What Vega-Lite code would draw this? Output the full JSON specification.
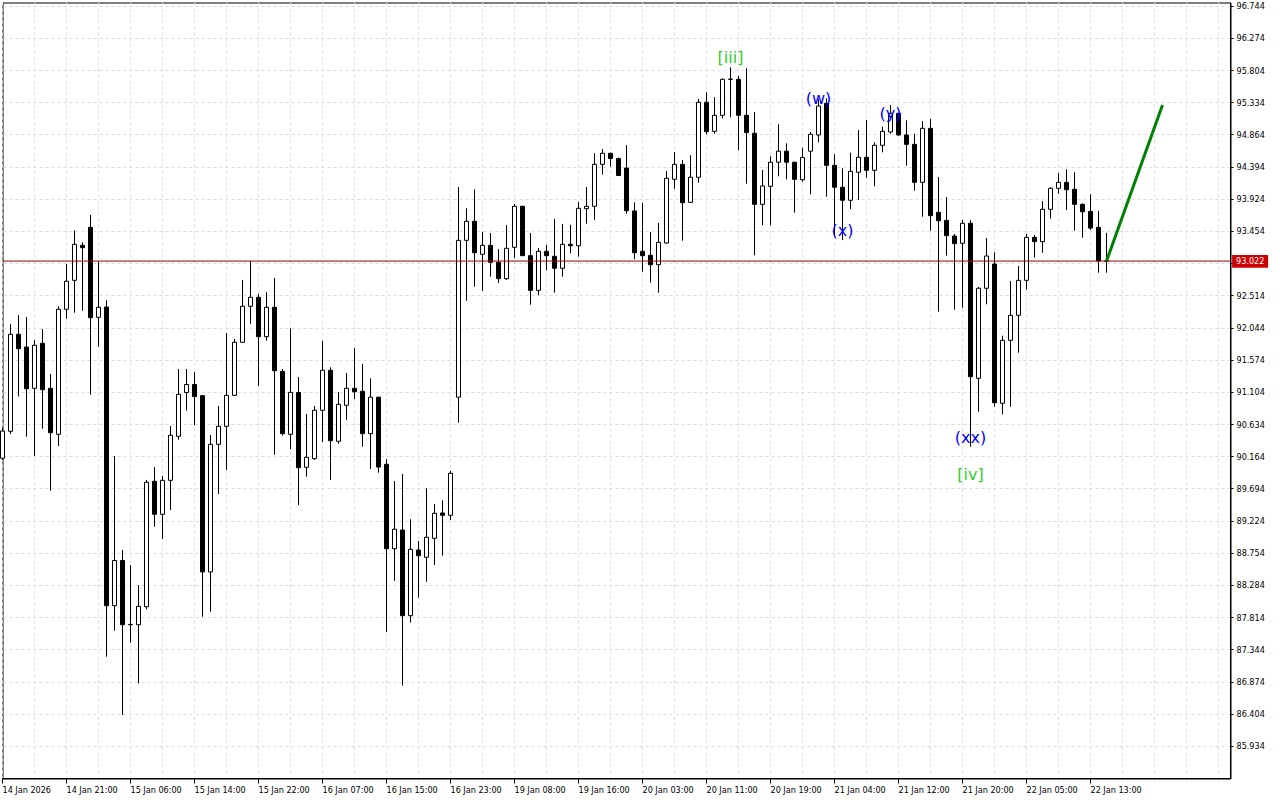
{
  "$schema": "https://vega.github.io/schema/vega-lite/v6.json",
  "width": 1228,
  "height": 776,
  "autosize": {"type": "none"},
  "padding": {"left": 2.5, "top": 2.5, "right": 49.5, "bottom": 21.5},
  "background": "white",
  "config": {"view": {"stroke": "black", "strokeWidth": 1}, "axis": {"translate": 0}, "scale": {"continuousPadding": 0}},
  "resolve": {"axis": {"x": "independent", "y": "independent"}},
  "datasets": {
    "candles": [
      {"k":0,"open":90.142,"high":90.584,"low":90.117,"close":90.540},
      {"k":1,"open":90.536,"high":92.103,"low":90.496,"close":91.953},
      {"k":2,"open":91.953,"high":92.234,"low":91.043,"close":91.742},
      {"k":3,"open":91.767,"high":92.205,"low":90.457,"close":91.158},
      {"k":4,"open":91.164,"high":91.869,"low":90.175,"close":91.792},
      {"k":5,"open":91.821,"high":92.030,"low":90.574,"close":91.143},
      {"k":6,"open":91.164,"high":91.373,"low":89.668,"close":90.515},
      {"k":7,"open":90.492,"high":92.362,"low":90.321,"close":92.318},
      {"k":8,"open":92.318,"high":92.979,"low":92.180,"close":92.727},
      {"k":9,"open":92.741,"high":93.471,"low":92.268,"close":93.267},
      {"k":10,"open":93.252,"high":93.296,"low":92.297,"close":93.217},
      {"k":11,"open":93.515,"high":93.695,"low":91.070,"close":92.195},
      {"k":12,"open":92.201,"high":93.013,"low":91.771,"close":92.347},
      {"k":13,"open":92.351,"high":92.450,"low":87.244,"close":87.989},
      {"k":14,"open":87.989,"high":90.175,"low":87.624,"close":88.649},
      {"k":15,"open":88.649,"high":88.802,"low":86.392,"close":87.711},
      {"k":16,"open":87.711,"high":88.583,"low":87.448,"close":87.715},
      {"k":17,"open":87.711,"high":88.291,"low":86.855,"close":87.980},
      {"k":18,"open":87.974,"high":89.825,"low":87.936,"close":89.791},
      {"k":19,"open":89.806,"high":90.014,"low":89.143,"close":89.324},
      {"k":20,"open":89.324,"high":89.883,"low":88.963,"close":89.820},
      {"k":21,"open":89.820,"high":90.613,"low":89.386,"close":90.478},
      {"k":22,"open":90.463,"high":91.446,"low":90.413,"close":91.076},
      {"k":23,"open":91.103,"high":91.446,"low":90.837,"close":91.219},
      {"k":24,"open":91.219,"high":91.402,"low":90.628,"close":91.043},
      {"k":25,"open":91.056,"high":91.066,"low":87.828,"close":88.482},
      {"k":26,"open":88.482,"high":90.482,"low":87.901,"close":90.346},
      {"k":27,"open":90.346,"high":90.905,"low":89.620,"close":90.609},
      {"k":28,"open":90.609,"high":91.972,"low":89.971,"close":91.061},
      {"k":29,"open":91.061,"high":91.884,"low":91.051,"close":91.836},
      {"k":30,"open":91.836,"high":92.746,"low":91.826,"close":92.362},
      {"k":31,"open":92.362,"high":93.023,"low":92.103,"close":92.493},
      {"k":32,"open":92.493,"high":92.544,"low":91.199,"close":91.918},
      {"k":33,"open":91.918,"high":92.569,"low":91.859,"close":92.347},
      {"k":34,"open":92.347,"high":92.775,"low":90.194,"close":91.421},
      {"k":35,"open":91.412,"high":91.446,"low":90.472,"close":90.501},
      {"k":36,"open":90.492,"high":92.040,"low":90.277,"close":91.105},
      {"k":37,"open":91.103,"high":91.329,"low":89.459,"close":90.004},
      {"k":38,"open":90.010,"high":90.789,"low":89.873,"close":90.156},
      {"k":39,"open":90.136,"high":90.905,"low":90.117,"close":90.843},
      {"k":40,"open":90.843,"high":91.855,"low":90.380,"close":91.427},
      {"k":41,"open":91.427,"high":91.471,"low":89.825,"close":90.399},
      {"k":42,"open":90.390,"high":91.110,"low":90.355,"close":90.930},
      {"k":43,"open":90.916,"high":91.387,"low":90.701,"close":91.164},
      {"k":44,"open":91.164,"high":91.752,"low":91.008,"close":91.114},
      {"k":45,"open":91.120,"high":91.519,"low":90.311,"close":90.501},
      {"k":46,"open":90.501,"high":91.310,"low":89.985,"close":91.034},
      {"k":47,"open":91.034,"high":91.040,"low":89.931,"close":90.014},
      {"k":48,"open":90.054,"high":90.127,"low":87.605,"close":88.821},
      {"k":49,"open":88.821,"high":89.810,"low":88.353,"close":89.105},
      {"k":50,"open":89.094,"high":89.912,"low":86.822,"close":87.843},
      {"k":51,"open":87.843,"high":89.251,"low":87.741,"close":88.812},
      {"k":52,"open":88.802,"high":88.934,"low":88.107,"close":88.719},
      {"k":53,"open":88.696,"high":89.703,"low":88.338,"close":88.988},
      {"k":54,"open":88.973,"high":89.474,"low":88.583,"close":89.338},
      {"k":55,"open":89.343,"high":89.528,"low":88.719,"close":89.309},
      {"k":56,"open":89.309,"high":89.956,"low":89.240,"close":89.922},
      {"k":57,"open":91.034,"high":94.104,"low":90.662,"close":93.325},
      {"k":58,"open":93.325,"high":93.793,"low":92.443,"close":93.603},
      {"k":59,"open":93.603,"high":94.070,"low":92.648,"close":93.144},
      {"k":60,"open":93.121,"high":93.447,"low":92.585,"close":93.252},
      {"k":61,"open":93.252,"high":93.432,"low":92.794,"close":93.004},
      {"k":62,"open":93.004,"high":93.198,"low":92.702,"close":92.765},
      {"k":63,"open":92.765,"high":93.549,"low":92.746,"close":93.209},
      {"k":64,"open":93.223,"high":93.856,"low":93.063,"close":93.822},
      {"k":65,"open":93.822,"high":93.830,"low":93.095,"close":93.101},
      {"k":66,"open":93.101,"high":93.432,"low":92.385,"close":92.595},
      {"k":67,"open":92.595,"high":93.213,"low":92.523,"close":93.165},
      {"k":68,"open":93.165,"high":93.257,"low":92.887,"close":93.101},
      {"k":69,"open":93.092,"high":93.637,"low":92.560,"close":92.917},
      {"k":70,"open":92.917,"high":93.564,"low":92.794,"close":93.267},
      {"k":71,"open":93.267,"high":93.553,"low":93.136,"close":93.246},
      {"k":72,"open":93.246,"high":93.885,"low":93.087,"close":93.793},
      {"k":73,"open":93.787,"high":94.104,"low":93.568,"close":93.822},
      {"k":74,"open":93.822,"high":94.600,"low":93.622,"close":94.435},
      {"k":75,"open":94.435,"high":94.659,"low":94.286,"close":94.596},
      {"k":76,"open":94.596,"high":94.605,"low":94.402,"close":94.519},
      {"k":77,"open":94.519,"high":94.533,"low":94.270,"close":94.272},
      {"k":78,"open":94.381,"high":94.717,"low":93.714,"close":93.758},
      {"k":79,"open":93.754,"high":93.880,"low":93.048,"close":93.144},
      {"k":80,"open":93.165,"high":93.870,"low":92.867,"close":93.101},
      {"k":81,"open":93.106,"high":93.447,"low":92.706,"close":92.969},
      {"k":82,"open":92.969,"high":93.578,"low":92.560,"close":93.296},
      {"k":83,"open":93.286,"high":94.338,"low":93.276,"close":94.231},
      {"k":84,"open":94.216,"high":94.615,"low":94.079,"close":94.435},
      {"k":85,"open":94.435,"high":94.498,"low":93.320,"close":93.874},
      {"k":86,"open":93.880,"high":94.567,"low":93.870,"close":94.246},
      {"k":87,"open":94.246,"high":95.389,"low":94.167,"close":95.341},
      {"k":88,"open":95.341,"high":95.487,"low":94.874,"close":94.912},
      {"k":89,"open":94.917,"high":95.414,"low":94.882,"close":95.151},
      {"k":90,"open":95.151,"high":95.691,"low":95.107,"close":95.676},
      {"k":91,"open":95.676,"high":95.852,"low":95.122,"close":95.680},
      {"k":92,"open":95.676,"high":95.725,"low":94.640,"close":95.151},
      {"k":93,"open":95.151,"high":95.837,"low":94.152,"close":94.898},
      {"k":94,"open":94.889,"high":95.199,"low":93.106,"close":93.851},
      {"k":95,"open":93.851,"high":94.352,"low":93.545,"close":94.119},
      {"k":96,"open":94.114,"high":94.552,"low":93.545,"close":94.466},
      {"k":97,"open":94.466,"high":95.020,"low":94.260,"close":94.627},
      {"k":98,"open":94.627,"high":94.742,"low":94.216,"close":94.466},
      {"k":99,"open":94.466,"high":94.470,"low":93.729,"close":94.216},
      {"k":100,"open":94.210,"high":94.678,"low":94.181,"close":94.533},
      {"k":101,"open":94.627,"high":94.907,"low":93.997,"close":94.874},
      {"k":102,"open":94.864,"high":95.389,"low":94.757,"close":95.287},
      {"k":103,"open":95.326,"high":95.399,"low":93.962,"close":94.420},
      {"k":104,"open":94.420,"high":94.583,"low":93.378,"close":94.100},
      {"k":105,"open":94.100,"high":94.377,"low":93.329,"close":93.910},
      {"k":106,"open":93.910,"high":94.605,"low":93.782,"close":94.333},
      {"k":107,"open":94.319,"high":94.936,"low":93.914,"close":94.538},
      {"k":108,"open":94.538,"high":95.082,"low":94.240,"close":94.348},
      {"k":109,"open":94.348,"high":94.757,"low":94.114,"close":94.713},
      {"k":110,"open":94.713,"high":94.985,"low":94.610,"close":94.917},
      {"k":111,"open":94.907,"high":95.301,"low":94.878,"close":95.180},
      {"k":112,"open":95.180,"high":95.189,"low":94.850,"close":94.864},
      {"k":113,"open":94.864,"high":95.078,"low":94.415,"close":94.727},
      {"k":114,"open":94.727,"high":94.882,"low":94.050,"close":94.172},
      {"k":115,"open":94.172,"high":95.068,"low":93.670,"close":94.961},
      {"k":116,"open":94.961,"high":95.097,"low":93.466,"close":93.685},
      {"k":117,"open":93.734,"high":94.250,"low":92.283,"close":93.611},
      {"k":118,"open":93.617,"high":93.958,"low":93.101,"close":93.393},
      {"k":119,"open":93.388,"high":93.417,"low":92.312,"close":93.276},
      {"k":120,"open":93.282,"high":93.622,"low":92.341,"close":93.574},
      {"k":121,"open":93.574,"high":93.622,"low":90.311,"close":91.333},
      {"k":122,"open":91.310,"high":92.644,"low":90.822,"close":92.625},
      {"k":123,"open":92.625,"high":93.358,"low":92.391,"close":93.096},
      {"k":124,"open":92.979,"high":93.150,"low":90.895,"close":90.954},
      {"k":125,"open":90.945,"high":91.932,"low":90.784,"close":91.865},
      {"k":126,"open":91.865,"high":92.731,"low":90.895,"close":92.230},
      {"k":127,"open":92.230,"high":92.950,"low":91.684,"close":92.741},
      {"k":128,"open":92.741,"high":93.417,"low":92.604,"close":93.369},
      {"k":129,"open":93.369,"high":93.403,"low":93.071,"close":93.305},
      {"k":130,"open":93.305,"high":93.899,"low":93.144,"close":93.778},
      {"k":131,"open":93.778,"high":94.099,"low":93.641,"close":94.085},
      {"k":132,"open":94.085,"high":94.308,"low":94.006,"close":94.172},
      {"k":133,"open":94.172,"high":94.362,"low":93.768,"close":94.064},
      {"k":134,"open":94.070,"high":94.319,"low":93.466,"close":93.851},
      {"k":135,"open":93.851,"high":93.866,"low":93.363,"close":93.742},
      {"k":136,"open":93.748,"high":93.997,"low":93.475,"close":93.504},
      {"k":137,"open":93.515,"high":93.754,"low":92.852,"close":93.025},
      {"k":138,"open":93.025,"high":93.435,"low":92.852,"close":93.022}
    ],
    "waves": [
      {"label":"[iii]","k":91,"price":95.988,"degree":"minor"},
      {"label":"(w)","k":102,"price":95.392,"degree":"minute"},
      {"label":"(x)","k":105,"price":93.457,"degree":"minute"},
      {"label":"(y)","k":111,"price":95.166,"degree":"minute"},
      {"label":"(xx)","k":121,"price":90.434,"degree":"minute"},
      {"label":"[iv]","k":121,"price":89.902,"degree":"minor"}
    ],
    "forecast": [
      {"k":138,"price":93.022},
      {"k":145,"price":95.30}
    ],
    "bid": [
      {"price":93.022,"label":"93.022"}
    ]
  },
  "layer": [
    {
      "data": {"name": "candles"},
      "mark": {"type": "rule", "color": "black", "strokeWidth": 1},
      "encoding": {
        "x": {
          "field": "k", "type": "quantitative",
          "scale": {"domain": [0, 153.5], "nice": false, "zero": false, "padding": 0},
          "axis": {
            "orient": "bottom", "title": null,
            "values": [0,4,8,12,16,20,24,28,32,36,40,44,48,52,56,60,64,68,72,76,80,84,88,92,96,100,104,108,112,116,120,124,128,132,136,140,144,148,152],
            "grid": true, "gridColor": "#dcdcdc", "gridDash": [3,3], "gridWidth": 1,
            "domain": true, "domainColor": "black", "domainWidth": 1,
            "ticks": true, "tickSize": 5, "tickColor": "black", "tickWidth": 1,
            "tickOpacity": {"condition": {"test": "datum.value % 8 != 0 || datum.value > 136", "value": 0}, "value": 1},
            "labelExpr": "datum.value % 8 == 0 && datum.value <= 136 ? ['14 Jan 2026','14 Jan 21:00','15 Jan 06:00','15 Jan 14:00','15 Jan 22:00','16 Jan 07:00','16 Jan 15:00','16 Jan 23:00','19 Jan 08:00','19 Jan 16:00','20 Jan 03:00','20 Jan 11:00','20 Jan 19:00','21 Jan 04:00','21 Jan 12:00','21 Jan 20:00','22 Jan 05:00','22 Jan 13:00'][datum.value / 8] : ''",
            "labelAlign": "left", "labelBaseline": "alphabetic", "labelPadding": 9.5, "labelOffset": 0,
            "labelFont": "DejaVu Sans Condensed", "labelFontSize": 9, "labelColor": "black",
            "labelOverlap": false, "labelBound": false, "labelFlush": false
          }
        },
        "y": {
          "field": "low", "type": "quantitative",
          "scale": {"domain": [85.4651, 96.7985], "nice": false, "zero": false, "padding": 0},
          "axis": {
            "orient": "right", "title": null,
            "values": [85.934,86.404,86.874,87.344,87.814,88.284,88.754,89.224,89.694,90.164,90.634,91.104,91.574,92.044,92.514,92.984,93.454,93.924,94.394,94.864,95.334,95.804,96.274,96.744],
            "labelExpr": "abs(datum.value - 92.984) < 0.001 ? '' : format(datum.value, '.3f')",
            "grid": true, "gridColor": "#dcdcdc", "gridDash": [3,3], "gridWidth": 1,
            "domain": true, "domainColor": "black", "domainWidth": 1,
            "ticks": true, "tickSize": 3, "tickColor": "black", "tickWidth": 1,
            "labelAlign": "left", "labelBaseline": "middle", "labelPadding": 3,
            "labelFont": "DejaVu Sans Condensed", "labelFontSize": 9, "labelColor": "black",
            "labelOverlap": false, "labelBound": false, "labelFlush": false
          }
        },
        "y2": {"field": "high"}
      }
    },
    {
      "data": {"name": "candles"},
      "mark": {"type": "bar", "orient": "vertical", "size": 4, "stroke": "black", "strokeWidth": 1},
      "encoding": {
        "x": {"field": "k", "type": "quantitative", "scale": {"domain": [0, 153.5], "nice": false, "zero": false, "padding": 0}, "axis": null},
        "y": {"field": "open", "type": "quantitative", "scale": {"domain": [85.4651, 96.7985], "nice": false, "zero": false, "padding": 0}, "axis": null},
        "y2": {"field": "close"},
        "fill": {"condition": {"test": "datum.close < datum.open", "value": "black"}, "value": "white"}
      }
    },
    {
      "data": {"name": "bid"},
      "mark": {"type": "rule", "color": "#9a0000", "strokeWidth": 1},
      "encoding": {
        "y": {"field": "price", "type": "quantitative", "scale": {"domain": [85.4651, 96.7985], "nice": false, "zero": false, "padding": 0}, "axis": null}
      }
    },
    {
      "data": {"name": "forecast"},
      "mark": {"type": "line", "color": "#008000", "strokeWidth": 3},
      "encoding": {
        "x": {"field": "k", "type": "quantitative", "scale": {"domain": [0, 153.5], "nice": false, "zero": false, "padding": 0}, "axis": null},
        "y": {"field": "price", "type": "quantitative", "scale": {"domain": [85.4651, 96.7985], "nice": false, "zero": false, "padding": 0}, "axis": null}
      }
    },
    {
      "data": {"name": "waves"},
      "transform": [{"filter": "datum.degree == 'minor'"}],
      "mark": {"type": "text", "font": "DejaVu Sans", "fontSize": 16, "align": "center", "baseline": "middle", "color": "#32cd32"},
      "encoding": {
        "x": {"field": "k", "type": "quantitative", "scale": {"domain": [0, 153.5], "nice": false, "zero": false, "padding": 0}, "axis": null},
        "y": {"field": "price", "type": "quantitative", "scale": {"domain": [85.4651, 96.7985], "nice": false, "zero": false, "padding": 0}, "axis": null},
        "text": {"field": "label"}
      }
    },
    {
      "data": {"name": "waves"},
      "transform": [{"filter": "datum.degree == 'minute'"}],
      "mark": {"type": "text", "font": "DejaVu Sans", "fontSize": 16, "align": "center", "baseline": "middle", "color": "#0000ff"},
      "encoding": {
        "x": {"field": "k", "type": "quantitative", "scale": {"domain": [0, 153.5], "nice": false, "zero": false, "padding": 0}, "axis": null},
        "y": {"field": "price", "type": "quantitative", "scale": {"domain": [85.4651, 96.7985], "nice": false, "zero": false, "padding": 0}, "axis": null},
        "text": {"field": "label"}
      }
    },
    {
      "data": {"name": "bid"},
      "mark": {"type": "rect", "fill": "#cc0000"},
      "encoding": {
        "x": {"datum": 153.7, "type": "quantitative", "scale": {"domain": [0, 153.5], "nice": false, "zero": false, "padding": 0}, "axis": null},
        "x2": {"datum": 158.2},
        "y": {"datum": 93.111, "type": "quantitative", "scale": {"domain": [85.4651, 96.7985], "nice": false, "zero": false, "padding": 0}, "axis": null},
        "y2": {"datum": 92.924}
      }
    },
    {
      "data": {"name": "bid"},
      "mark": {"type": "text", "font": "DejaVu Sans Condensed", "fontSize": 9, "align": "left", "baseline": "middle", "color": "white"},
      "encoding": {
        "x": {"datum": 154.2, "type": "quantitative", "scale": {"domain": [0, 153.5], "nice": false, "zero": false, "padding": 0}, "axis": null},
        "y": {"field": "price", "type": "quantitative", "scale": {"domain": [85.4651, 96.7985], "nice": false, "zero": false, "padding": 0}, "axis": null},
        "text": {"field": "label"}
      }
    }
  ]
}
